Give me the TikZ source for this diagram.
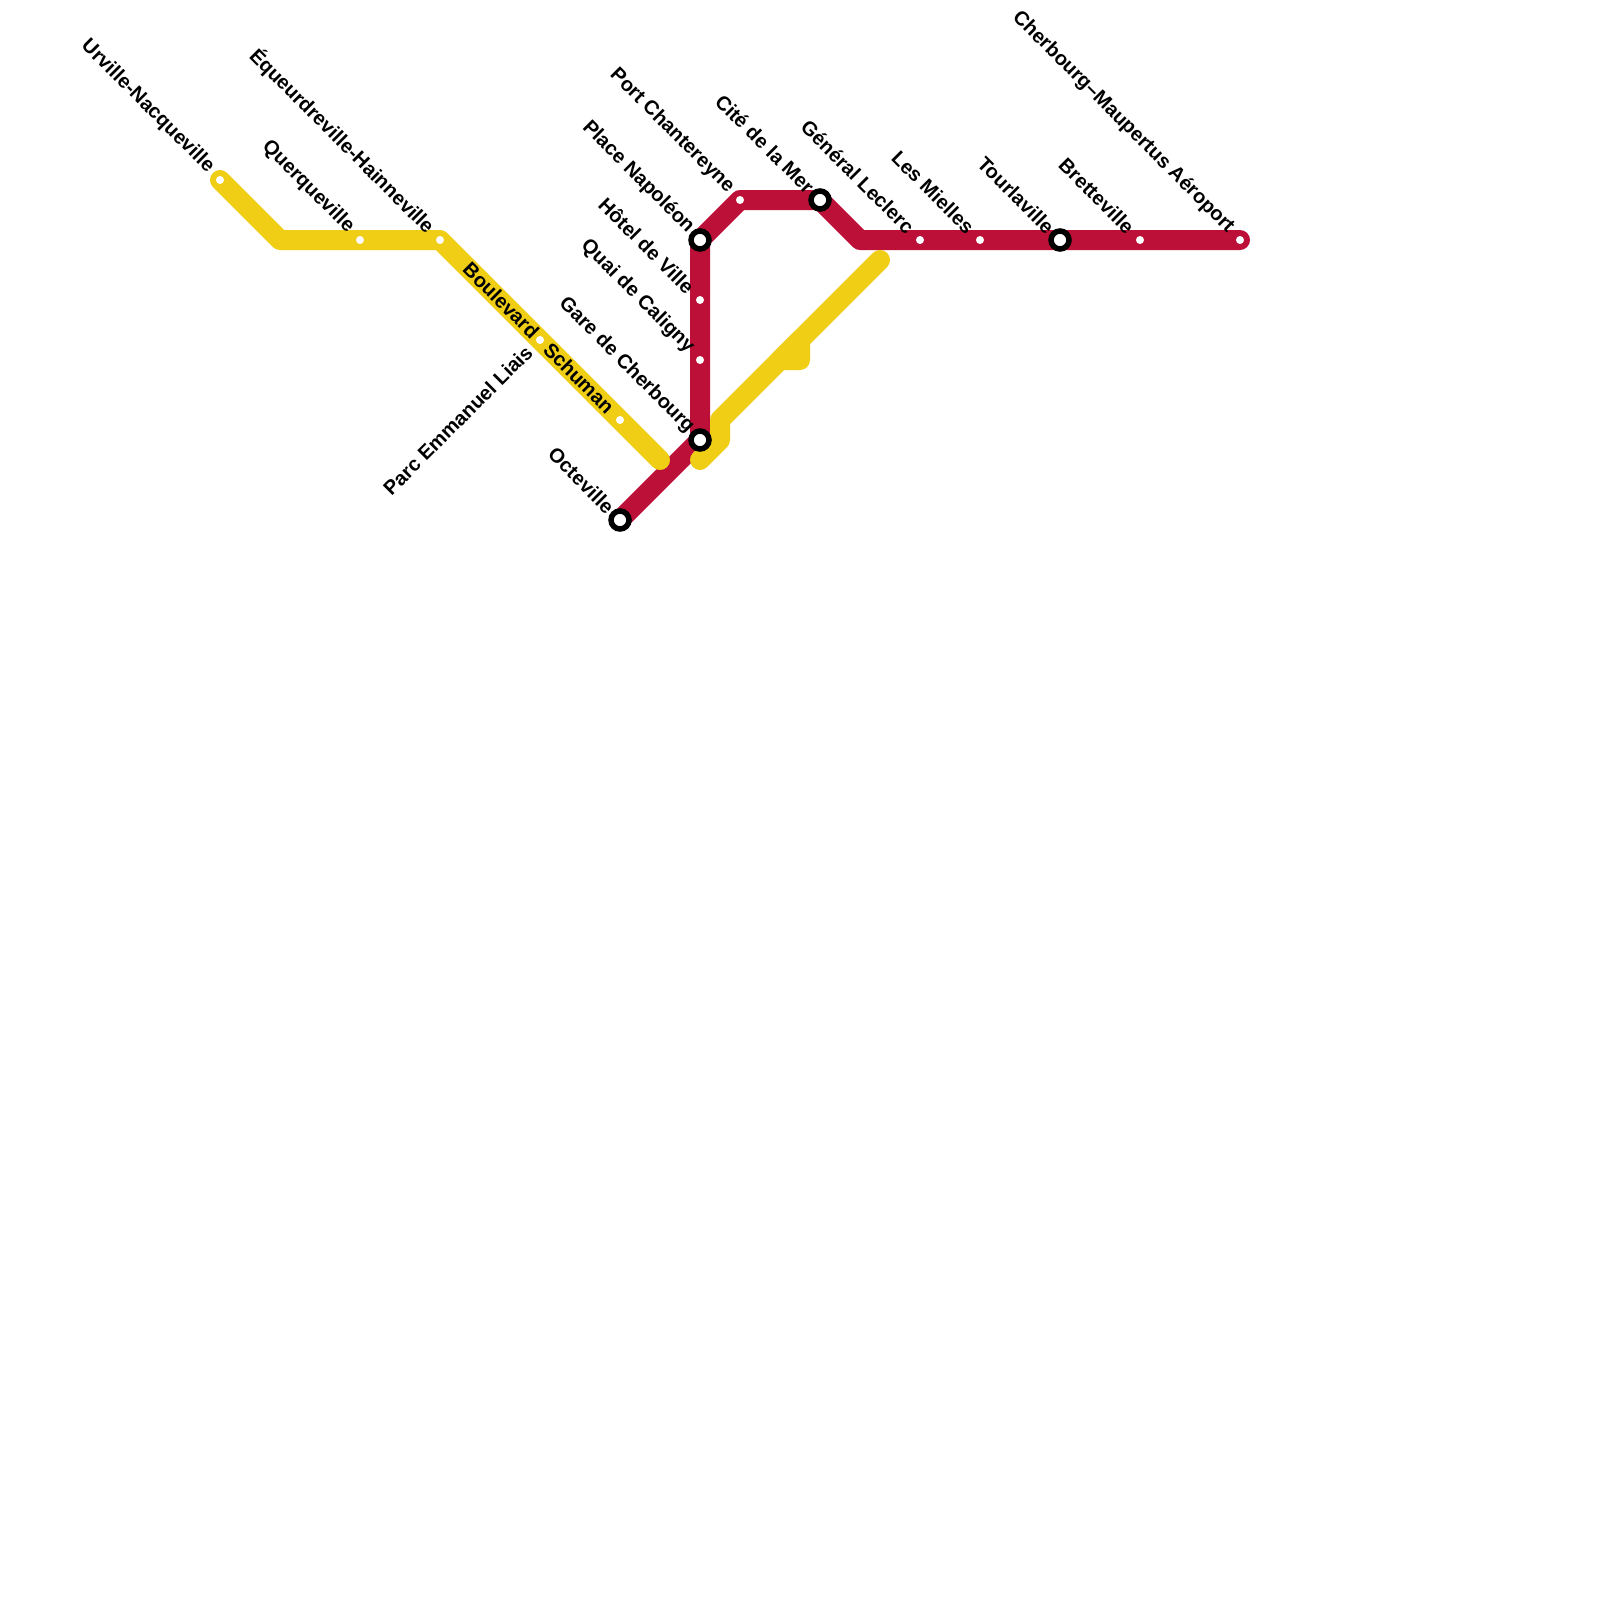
\documentclass[tikz,border=0pt]{standalone}
\usepackage{fontspec}
\setmainfont{Liberation Sans}
\begin{document}
\begin{tikzpicture}[x=1pt,y=-1pt,
  redline/.style={draw=cred,line width=20pt,line join=round,line cap=round},
  yelline/.style={draw=cyel,line width=20pt,line join=round,line cap=round},
  stop/.style={circle,fill=white,inner sep=0pt,minimum size=8pt},
  hub/.style={circle,fill=white,draw=black,line width=5.5pt,inner sep=0pt,minimum size=18pt},
  lbl/.style={inner sep=0pt,anchor=east,rotate=-45,font=\fontsize{20}{20}\selectfont\bfseries},
  lblup/.style={inner sep=0pt,anchor=east,rotate=45,font=\fontsize{20}{20}\selectfont\bfseries}]
\definecolor{cred}{HTML}{BD1038}
\definecolor{cyel}{HTML}{F0CE15}
\useasboundingbox (0,0) rectangle (1600,1600);
\fill[white] (0,0) rectangle (1600,1600);
% stations and bends
\coordinate (y1) at (280,240);
\coordinate (yend) at (660,460);
\coordinate (y2a) at (880,260);
\coordinate (y2b) at (800,340);
\coordinate (y2c) at (800,360);
\coordinate (y2d) at (780,360);
\coordinate (y2e) at (720,420);
\coordinate (y2f) at (720,440);
\coordinate (y2g) at (700,460);
\coordinate (r1) at (860,240);
\coordinate (rOct) at (620,520);
\coordinate (rNap) at (700,240);
\coordinate (rGare) at (700,440);
\coordinate (rPort) at (740,200);
\coordinate (rCite) at (820,200);
\coordinate (rEnd) at (1240,240);
\draw[redline] (rOct) -- (rGare) -- (rNap) -- (rPort) -- (rCite) -- (r1) -- (rEnd);
\coordinate (yStart) at (220,180);
\coordinate (yEq) at (440,240);
\draw[yelline] (yStart) -- (y1) -- (yEq) -- (yend);
\draw[yelline] (y2a) -- (y2e) -- (y2f) -- (y2g);
\draw[yelline] (y2b) -- (y2c) -- (y2d) -- cycle;
% small stops
\node[stop] (urv) at (yStart) {};
\node[stop] (que) at (360,240) {};
\node[stop] (equ) at (yEq) {};
\node[stop] (parc) at (540,340) {};
\node[stop] (bou) at (620,420) {};
\node[stop] (prt) at (rPort) {};
\node[stop] (hot) at (700,300) {};
\node[stop] (qua) at (700,360) {};
\node[stop] (gen) at (920,240) {};
\node[stop] (mie) at (980,240) {};
\node[stop] (bre) at (1140,240) {};
\node[stop] (cher) at (rEnd) {};
% interchanges
\node[hub] (oct) at (rOct) {};
\node[hub] (nap) at (rNap) {};
\node[hub] (gar) at (rGare) {};
\node[hub] (cit) at (rCite) {};
\node[hub] (tou) at (1060,240) {};
% labels
\node[lbl] (lurv) at (211,170) {Urville-Nacqueville};
\node[lbl] (lque) at (351,230) {Querqueville};
\node[lbl] (lequ) at (431,230) {Équeurdreville-Hainneville};
\node[lblup] (lpar) at (529,349) {Parc Emmanuel Liais};
\node[lbl] (lbou) at (611,410) {Boulevard\hspace{16pt}Schuman};
\node[lbl] (loct) at (611,510) {Octeville};
\node[lbl] (lnap) at (691,230) {Place Napoléon};
\node[lbl] (lhot) at (691,290) {Hôtel de Ville};
\node[lbl] (lqua) at (691,350) {Quai de Caligny};
\node[lbl] (lgar) at (691,430) {Gare de Cherbourg};
\node[lbl] (lprt) at (731,190) {Port Chantereyne};
\node[lbl] (lcit) at (811,190) {Cité de la Mer};
\node[lbl] (lgen) at (911,230) {Général Leclerc};
\node[lbl] (lmie) at (971,230) {Les Mielles};
\node[lbl] (ltou) at (1051,230) {Tourlaville};
\node[lbl] (lbre) at (1131,230) {Bretteville};
\node[lbl] (lche) at (1231,230) {Cherbourg–Maupertus Aéroport};
\end{tikzpicture}
\end{document}
